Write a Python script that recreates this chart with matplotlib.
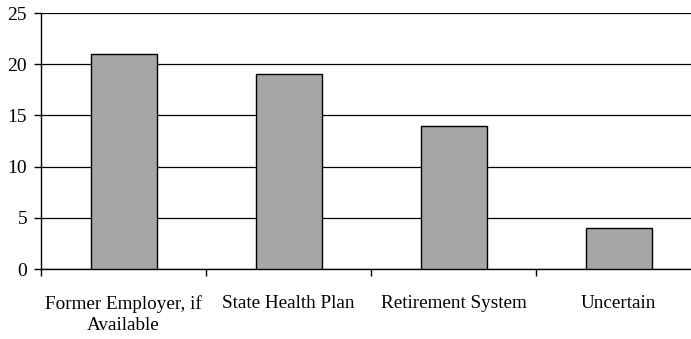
import matplotlib
matplotlib.use("Agg")
import matplotlib.pyplot as plt
import numpy as np

categories = ["Former Employer, if\nAvailable", "State Health Plan",
              "Retirement System", "Uncertain"]
values = [21, 19, 14, 4]
y_ticks = [0, 5, 10, 15, 20, 25]

plt.rcParams["font.family"] = ["Liberation Serif", "DejaVu Serif"]

fig = plt.figure(figsize=(6.91, 3.39), dpi=100)
# plot area runs a little past the right edge of the figure
ax = fig.add_axes([41 / 691, 70 / 339, 660 / 691, 256 / 339])

x = np.arange(len(categories))
ax.bar(x, values, width=0.4, color="#a6a6a6", edgecolor="black",
       linewidth=1.0, zorder=3)

ax.set_xlim(-0.5, len(categories) - 0.5)
ax.set_ylim(0, 25)
ax.set_yticks(y_ticks)
ax.yaxis.grid(True, color="black", linewidth=0.9, zorder=0)
ax.set_axisbelow(True)

# category boundaries carry the tick marks, centers carry the labels
ax.set_xticks(np.arange(len(categories) + 1) - 0.5)
ax.set_xticklabels([])
ax.set_xticks(x, minor=True)
ax.set_xticklabels(categories, minor=True, fontsize=13.8, linespacing=1.32)
ax.tick_params(axis="x", which="major", direction="out", length=5,
               width=1, color="black")
ax.tick_params(axis="x", which="minor", length=0, pad=18.5)
ax.tick_params(axis="y", direction="out", length=5, width=1,
               labelsize=14, pad=5)

for side in ("top", "right"):
    ax.spines[side].set_visible(False)
for side in ("left", "bottom"):
    ax.spines[side].set_color("black")
    ax.spines[side].set_linewidth(1.0)

fig.savefig("out.png", dpi=100)
